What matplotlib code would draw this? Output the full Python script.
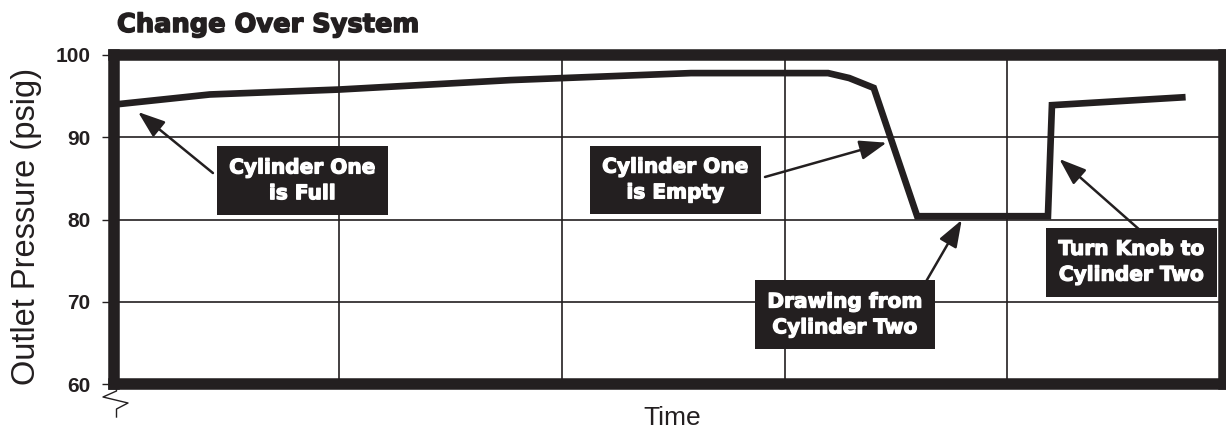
import matplotlib.pyplot as plt
import matplotlib.patheffects as pe
from matplotlib.lines import Line2D

INK = '#231f20'

# pressure trace (x in grid units of time, y in psig)
time = [0.0, 0.42, 1.0, 1.77, 2.58, 3.195, 3.29, 3.40, 3.595, 4.182, 4.20, 4.785]
pressure = [94.0, 95.2, 95.8, 96.95, 97.8, 97.8, 97.2, 96.0, 80.4, 80.4, 93.9, 94.85]

y_ticks = [60, 70, 80, 90, 100]
x_grid = [1, 2, 3, 4]

# callouts: label, box centre, arrow tail, arrow tip
callout_labels = ['Cylinder One\nis Full', 'Cylinder One\nis Empty',
                  'Drawing from\nCylinder Two', 'Turn Knob to\nCylinder Two']
callout_boxes = [(0.836, 84.7), (2.51, 84.8), (3.271, 68.4), (4.557, 74.8)]
callout_tails = [(0.434, 85.65), (2.912, 85.17), (3.63, 72.24), (4.603, 78.52)]
callout_tips = [(0.098, 93.07), (3.458, 89.34), (3.795, 79.94), (4.233, 87.36)]

W, H = 1226, 428
fig = plt.figure(figsize=(W / 100, H / 100), dpi=100)
ax = fig.add_axes([114 / W, 1 - 384 / H, (1223.5 - 114) / W, (384 - 55) / H])

ax.set_xlim(-0.01, 4.97)
ax.set_ylim(60, 100)

# grid
for y in y_ticks[1:-1]:
    ax.axhline(y, color=INK, lw=1.2, zorder=1)
for x in x_grid:
    ax.axvline(x, color=INK, lw=1.2, zorder=1)

ax.plot(time, pressure, color=INK, lw=4.8, solid_joinstyle='miter', zorder=2)

# heavy frame
for s in ax.spines.values():
    s.set_linewidth(8.3)
    s.set_color(INK)
    s.set_zorder(3)

ax.set_xticks([])
ax.set_yticks(y_ticks)
ax.tick_params(axis='y', direction='out', length=9, width=1, color=INK, pad=8)
for lab in ax.get_yticklabels():
    lab.set_fontfamily('Liberation Sans')
    lab.set_fontweight('bold')
    lab.set_fontsize(15)
    lab.set_color(INK)

for label, box, tail, tip in zip(callout_labels, callout_boxes, callout_tails, callout_tips):
    ax.annotate('', xy=tip, xytext=tail, zorder=4,
                arrowprops=dict(arrowstyle='-|>,head_length=1.1,head_width=0.4',
                                mutation_scale=15, color=INK, lw=1.8,
                                shrinkA=0, shrinkB=0))
    ax.text(box[0], box[1], label, ha='center', va='center', color='white',
            fontfamily='DejaVu Sans', fontweight='bold', fontsize=14.5,
            linespacing=1.45, zorder=5,
            path_effects=[pe.withStroke(linewidth=0.9, foreground='white')],
            bbox=dict(boxstyle='square,pad=0.6', fc=INK, ec='none'))

fig.text(117 / W, 1 - 32 / H, 'Change Over System', fontfamily='DejaVu Sans',
         fontweight='bold', fontsize=18.5, color=INK, va='baseline', ha='left',
         path_effects=[pe.withStroke(linewidth=1.1, foreground=INK)])
fig.text(27 / W, 1 - 226 / H, 'Outlet Pressure (psig)', fontfamily='Liberation Sans',
         fontsize=23.5, color=INK, rotation=90, ha='center', va='center')
fig.text(672 / W, 1 - 425 / H, 'Time', fontfamily='Liberation Sans',
         fontsize=19, color=INK, ha='center', va='baseline')

# axis break mark under the frame
bx = [116.5, 116.5, 103, 128, 116.5, 116.5]
by = [388, 391, 397, 403, 409, 417]
fig.add_artist(Line2D([v / W for v in bx], [1 - v / H for v in by],
                      transform=fig.transFigure, color=INK, lw=1.0))

fig.savefig('out.png', dpi=100)
